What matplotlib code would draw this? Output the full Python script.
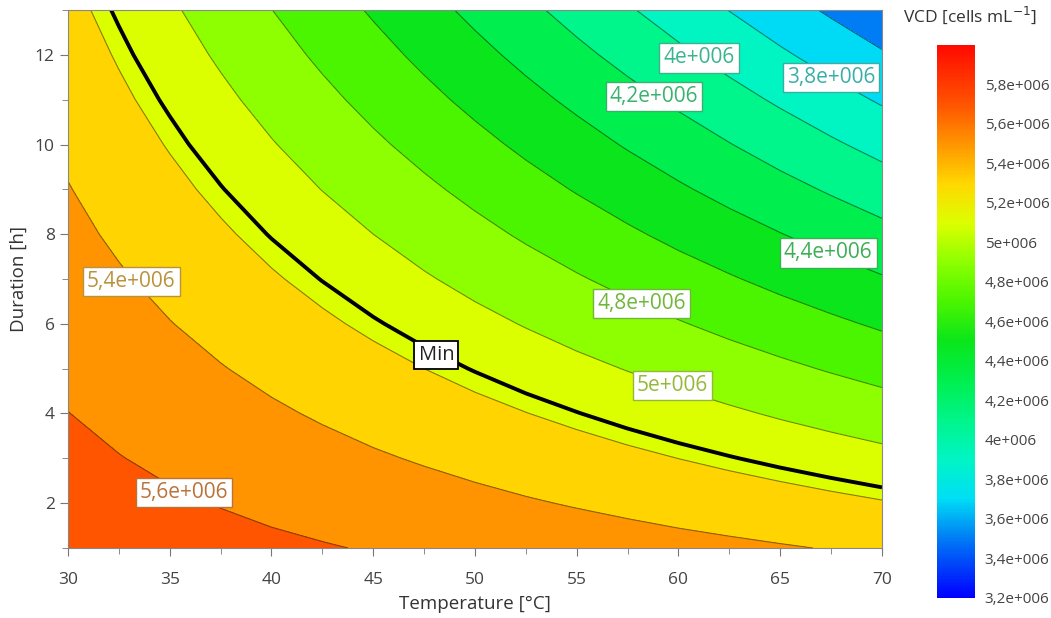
import matplotlib
matplotlib.use('Agg')
import matplotlib.pyplot as plt
import numpy as np
from matplotlib.colors import LinearSegmentedColormap, Normalize, to_rgb
from matplotlib.cm import ScalarMappable
from matplotlib.ticker import MultipleLocator

plt.rcParams['font.family'] = ['Open Sans', 'DejaVu Sans']

# response surface (VCD in 1e6 cells/mL)
temperature = [30, 32.5, 35, 37.5, 40, 42.5, 45, 47.5, 50, 52.5, 55, 57.5, 60, 62.5, 65, 67.5, 70]
duration = [1, 2, 3, 4, 5, 6, 7, 8, 9, 10, 11, 12, 13]
vcd = [
    [5.720, 5.698, 5.676, 5.654, 5.632, 5.611, 5.589, 5.567, 5.545, 5.523, 5.501, 5.479, 5.457, 5.436, 5.414, 5.392, 5.370],
    [5.681, 5.651, 5.622, 5.593, 5.563, 5.534, 5.505, 5.475, 5.446, 5.416, 5.387, 5.358, 5.328, 5.299, 5.270, 5.240, 5.211],
    [5.642, 5.605, 5.568, 5.531, 5.494, 5.457, 5.420, 5.384, 5.347, 5.310, 5.273, 5.236, 5.199, 5.162, 5.125, 5.089, 5.052],
    [5.602, 5.558, 5.514, 5.469, 5.425, 5.381, 5.336, 5.292, 5.247, 5.203, 5.159, 5.114, 5.070, 5.026, 4.981, 4.937, 4.892],
    [5.563, 5.511, 5.460, 5.408, 5.356, 5.304, 5.252, 5.200, 5.148, 5.096, 5.045, 4.993, 4.941, 4.889, 4.837, 4.785, 4.733],
    [5.524, 5.465, 5.405, 5.346, 5.287, 5.227, 5.168, 5.109, 5.049, 4.990, 4.930, 4.871, 4.812, 4.752, 4.693, 4.634, 4.574],
    [5.485, 5.418, 5.351, 5.284, 5.217, 5.151, 5.084, 5.017, 4.950, 4.883, 4.816, 4.749, 4.682, 4.616, 4.549, 4.482, 4.415],
    [5.446, 5.371, 5.297, 5.223, 5.148, 5.074, 5.000, 4.925, 4.851, 4.776, 4.702, 4.628, 4.553, 4.479, 4.405, 4.330, 4.256],
    [5.407, 5.325, 5.243, 5.161, 5.079, 4.997, 4.915, 4.834, 4.752, 4.670, 4.588, 4.506, 4.424, 4.342, 4.260, 4.179, 4.097],
    [5.368, 5.278, 5.189, 5.099, 5.010, 4.921, 4.831, 4.742, 4.653, 4.563, 4.474, 4.384, 4.295, 4.206, 4.116, 4.027, 3.938],
    [5.328, 5.231, 5.135, 5.038, 4.941, 4.844, 4.747, 4.650, 4.553, 4.456, 4.360, 4.263, 4.166, 4.069, 3.972, 3.875, 3.778],
    [5.289, 5.185, 5.080, 4.976, 4.872, 4.767, 4.663, 4.559, 4.454, 4.350, 4.245, 4.141, 4.037, 3.932, 3.828, 3.724, 3.619],
    [5.250, 5.138, 5.026, 4.914, 4.802, 4.691, 4.579, 4.467, 4.355, 4.243, 4.131, 4.019, 3.907, 3.796, 3.684, 3.572, 3.460],
]
levels = [3.2, 3.4, 3.6, 3.8, 4.0, 4.2, 4.4, 4.6, 4.8, 5.0, 5.2, 5.4, 5.6, 5.8, 6.0]
min_level = 5.155
cbar_ticks = [3.2, 3.4, 3.6, 3.8, 4.0, 4.2, 4.4, 4.6, 4.8, 5.0, 5.2, 5.4, 5.6, 5.8]

# labelled contours: (level, temperature, duration)
contour_labels = [
    (5.6, 35.7, 2.24),
    (5.4, 33.1, 6.94),
    (5.0, 59.7, 4.63),
    (4.8, 58.2, 6.46),
    (4.4, 67.35, 7.58),
    (4.2, 58.8, 11.07),
    (4.0, 61.0, 11.93),
    (3.8, 67.5, 11.5),
]
min_label = ("Min", 48.1, 5.31)

cmap = LinearSegmentedColormap.from_list("vcd", [
    (0.0, "#0000ff"),
    ((3.5 - 3.2) / 2.8, "#007df5"),
    ((3.7 - 3.2) / 2.8, "#00def5"),
    ((3.9 - 3.2) / 2.8, "#00f5c4"),
    ((4.1 - 3.2) / 2.8, "#00f58a"),
    ((4.3 - 3.2) / 2.8, "#00ef4e"),
    ((4.5 - 3.2) / 2.8, "#0ae61a"),
    ((4.7 - 3.2) / 2.8, "#4af500"),
    ((4.9 - 3.2) / 2.8, "#8cff00"),
    ((5.1 - 3.2) / 2.8, "#dcff00"),
    ((5.3 - 3.2) / 2.8, "#ffd700"),
    ((5.5 - 3.2) / 2.8, "#ff9600"),
    ((5.7 - 3.2) / 2.8, "#ff5500"),
    (1.0, "#ff0a00"),
])
norm = Normalize(vmin=3.2e6, vmax=6.0e6)


def fmt(v):
    return f"{v:g}".replace('.', ',') + "e+006"


def dark(v, k=0.5):
    r, g, b = to_rgb(cmap(norm(v * 1e6)))
    return (r * k + 0.45 * (1 - k), g * k + 0.45 * (1 - k), b * k + 0.45 * (1 - k))


T, D = np.meshgrid(temperature, duration)
Z = np.array(vcd) * 1e6
lv = np.array(levels) * 1e6

fig = plt.figure(figsize=(10.51, 6.18), dpi=100)
ax = fig.add_axes([0.0647, 0.1133, 0.7745, 0.8705])

ax.contourf(T, D, Z, levels=lv, cmap=cmap, norm=norm)
line_cols = [tuple(c * 0.55 for c in to_rgb(cmap(norm(v)))) for v in lv]
ax.contour(T, D, Z, levels=lv, colors=line_cols, linewidths=0.8)
ax.contour(T, D, Z, levels=[min_level * 1e6], colors="black", linewidths=2.8)

for lev, x, y in contour_labels:
    c = dark(lev)
    ax.text(x, y, fmt(lev), ha="center", va="center", fontsize=15, color=c,
            bbox=dict(boxstyle="square,pad=0.2", fc="white", ec=c, lw=1))
ax.text(min_label[1], min_label[2], min_label[0], ha="center", va="center",
        fontsize=14.5, color="#222222",
        bbox=dict(boxstyle="square,pad=0.2", fc="white", ec="black", lw=1.3))

ax.set_xlim(30, 70)
ax.set_ylim(1, 13)
ax.xaxis.set_major_locator(MultipleLocator(5))
ax.xaxis.set_minor_locator(MultipleLocator(2.5))
ax.yaxis.set_major_locator(MultipleLocator(2))
ax.yaxis.set_minor_locator(MultipleLocator(1))
ax.tick_params(which="major", length=6, color="#777777", labelsize=12.5, labelcolor="#444444")
ax.tick_params(which="minor", length=4, color="#777777")
ax.tick_params(axis="x", which="major", pad=11)
for s in ax.spines.values():
    s.set_color("#888888")
    s.set_linewidth(0.8)
ax.set_xlabel("Temperature [°C]", fontsize=13.5, color="#333333", labelpad=5)
ax.set_ylabel("Duration [h]", fontsize=13.5, color="#333333", labelpad=5)

cax = fig.add_axes([0.8915, 0.0324, 0.0362, 0.8948])
cb = fig.colorbar(ScalarMappable(norm=norm, cmap=cmap), cax=cax,
                  ticks=np.array(cbar_ticks) * 1e6)
cb.ax.set_yticklabels([fmt(v) for v in cbar_ticks])
cb.outline.set_visible(False)
cb.ax.tick_params(length=0, pad=7, labelsize=11, labelcolor="#444444")
fig.text(0.923, 0.975, r"VCD [cells mL$^{-1}$]", ha="center", va="center",
         fontsize=12.5, color="#333333")

fig.savefig("out.png", dpi=100)
